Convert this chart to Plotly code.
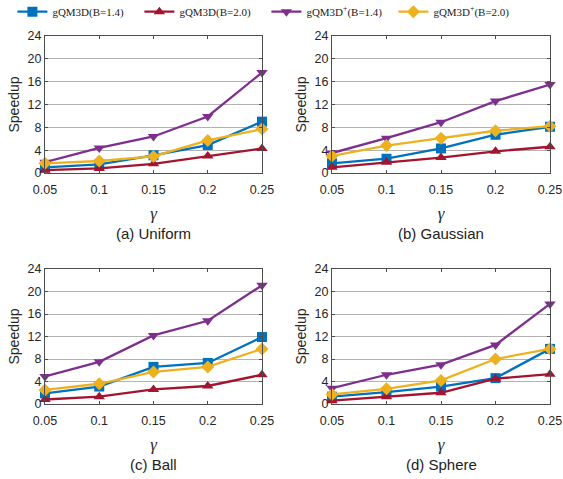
import plotly.graph_objects as go

gamma = [0.05, 0.1, 0.15, 0.2, 0.25]
x_ticks = ["0.05", "0.1", "0.15", "0.2", "0.25"]
y_ticks = [0, 4, 8, 12, 16, 20, 24]

series_names = ["gQM3D(B=1.4)", "gQM3D(B=2.0)", "gQM3D<sup>+</sup>(B=1.4)", "gQM3D<sup>+</sup>(B=2.0)"]
colors = ["#0072BD", "#A2142F", "#7E2F8E", "#EDB120"]
symbols = ["square", "triangle-up", "triangle-down", "diamond"]

panels = ["(a) Uniform", "(b) Gaussian", "(c) Ball", "(d) Sphere"]

uniform = [
    [1.0, 1.5, 3.1, 4.9, 9.0],
    [0.5, 0.8, 1.6, 3.0, 4.3],
    [1.9, 4.4, 6.4, 9.9, 17.6],
    [1.7, 2.1, 2.9, 5.7, 7.7],
]
gaussian = [
    [1.7, 2.5, 4.3, 6.7, 8.1],
    [1.0, 1.9, 2.7, 3.8, 4.6],
    [3.5, 6.1, 8.9, 12.6, 15.5],
    [3.0, 4.8, 6.1, 7.4, 8.2],
]
ball = [
    [1.9, 3.1, 6.6, 7.3, 11.9],
    [0.8, 1.3, 2.6, 3.2, 5.2],
    [4.9, 7.5, 12.2, 14.8, 21.1],
    [2.5, 3.6, 5.7, 6.6, 9.8],
]
sphere = [
    [1.3, 2.1, 3.1, 4.6, 9.8],
    [0.6, 1.3, 2.0, 4.5, 5.3],
    [2.8, 5.2, 7.0, 10.5, 17.8],
    [1.7, 2.7, 4.2, 8.0, 9.8],
]
datasets = [uniform, gaussian, ball, sphere]

W, H = 563, 479
# plot-area boxes in pixels: (x0, x1, y_top, y_bottom)
boxes = [(45, 262, 36, 173), (332, 550, 36, 173), (45, 262, 269, 404), (332, 550, 269, 404)]

fig = go.Figure()
axis_color = "#262626"
frame_color = "#4d4d4d"
tick_font = dict(family="Liberation Sans, Arial", size=12.5, color=axis_color)

for i, (data, box) in enumerate(zip(datasets, boxes)):
    xa = "x" if i == 0 else f"x{i+1}"
    ya = "y" if i == 0 else f"y{i+1}"
    for j in range(4):
        fig.add_trace(go.Scatter(
            x=gamma, y=data[j], mode="lines+markers",
            name=series_names[j], legendgroup=series_names[j], showlegend=(i == 0),
            line=dict(color=colors[j], width=2.3),
            marker=dict(symbol=symbols[j], size=10, color=colors[j]),
            xaxis=xa, yaxis=ya, cliponaxis=False,
        ))
    x0, x1, yt, yb = box
    xkey = "xaxis" if i == 0 else f"xaxis{i+1}"
    ykey = "yaxis" if i == 0 else f"yaxis{i+1}"
    fig.update_layout(**{
        xkey: dict(domain=[x0 / W, x1 / W], anchor=ya, range=[0.05, 0.25],
                   tickvals=gamma, ticktext=x_ticks, tickfont=tick_font,
                   showgrid=False, zeroline=False, showline=True, mirror="ticks",
                   linecolor=frame_color, linewidth=1, ticks="inside", ticklen=3,
                   tickcolor=frame_color, automargin=False, ticklabelstandoff=5,
                   title=dict(text="<i>γ</i>", font=dict(family="Liberation Serif, DejaVu Serif", size=17, color=axis_color), standoff=11)),
        ykey: dict(domain=[1 - yb / H, 1 - yt / H], anchor=xa, range=[0, 24],
                   tickvals=y_ticks, tickfont=tick_font,
                   showgrid=True, gridcolor="#b3b3b3", gridwidth=1, zeroline=False,
                   showline=True, mirror="ticks", linecolor=frame_color, linewidth=1,
                   ticks="inside", ticklen=3, tickcolor=frame_color, automargin=False),
    })
    # y-axis title placed as rotated text left of the tick labels
    fig.add_annotation(text="Speedup", x=(x0 - 32) / W, y=1 - (yt + yb) / 2 / H,
                       xref="paper", yref="paper", showarrow=False, textangle=-90,
                       font=dict(family="Liberation Sans, Arial", size=14, color=axis_color),
                       xanchor="center", yanchor="middle")
    fig.add_annotation(text=panels[i], x=(x0 + x1) / 2 / W, y=1 - (yb + 60) / H,
                       xref="paper", yref="paper", showarrow=False,
                       font=dict(family="Liberation Sans, Arial", size=15, color="#222222"),
                       yanchor="middle", xanchor="center")

fig.update_layout(
    width=W, height=H, margin=dict(l=0, r=0, t=0, b=0, autoexpand=False),
    plot_bgcolor="white", paper_bgcolor="white",
    legend=dict(orientation="h", x=0.022, y=1.006, xanchor="left", yanchor="top",
                font=dict(family="Liberation Serif, DejaVu Serif", size=11, color="#222222"),
                entrywidth=82, entrywidthmode="pixels", tracegroupgap=0,
                bgcolor="rgba(0,0,0,0)"),
)

fig.write_html("out.html", config={"displayModeBar": False},
               post_script="document.body.style.margin='0';")
